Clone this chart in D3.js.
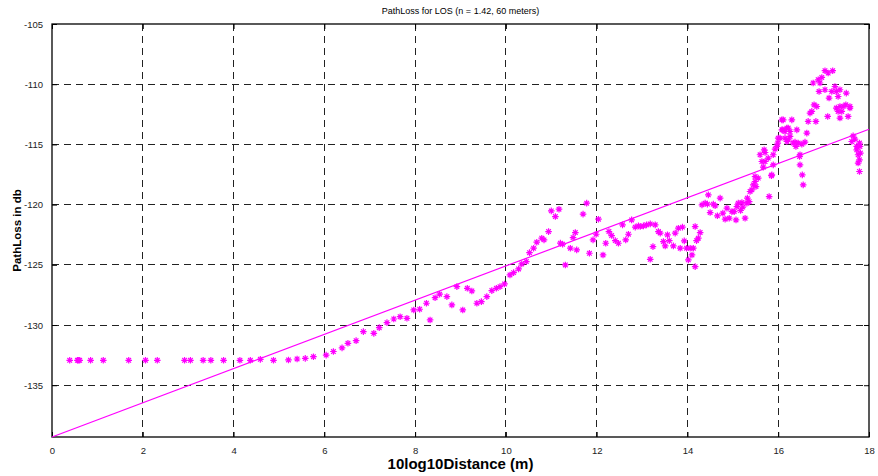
<!DOCTYPE html>
<html>
<head>
<meta charset="utf-8">
<script src="https://cdn.jsdelivr.net/npm/d3@7"></script>
<style>
  html, body { margin: 0; padding: 0; background: #fff; }
  svg text { font-family: "Liberation Sans", Arial, sans-serif; fill: #000; }
</style>
</head>
<body>
<svg id="chart" width="878" height="476"></svg>
<script>

////////// DATA //////////

const titleText = "PathLoss for LOS (n = 1.42, 60 meters)";
const xLabel = "10log10Distance (m)";
const yLabel = "PathLoss in db";

const xTicks = [0, 2, 4, 6, 8, 10, 12, 14, 16, 18];
const yTicks = [-135, -130, -125, -120, -115, -110, -105];

// measured path loss: 10log10(distance) vs loss in db
const distLog = [
  0.39, 0.56, 0.58, 0.61, 0.85, 1.13, 1.69, 2.06, 2.32, 2.92, 3.05, 3.33, 3.50, 3.78, 4.14, 4.37,
  4.59, 4.88, 5.21, 5.40, 5.58, 5.76, 6.04, 6.20, 6.39, 6.52, 6.70, 6.86, 7.09, 7.21, 7.38, 7.53,
  7.67, 7.82, 7.97, 8.10, 8.25, 8.33, 8.44, 8.54, 8.70, 8.81, 8.92, 9.05, 9.15, 9.25, 9.36, 9.46,
  9.58, 9.69, 9.79, 9.87, 9.97, 10.09, 10.17, 10.28, 10.35, 10.45, 10.52, 10.61, 10.68, 10.79, 10.84, 10.94,
  11.00, 11.09, 11.17, 11.20, 11.25, 11.31, 11.42, 11.48, 11.53, 11.56, 11.70, 11.78, 11.84, 11.92, 11.99, 12.04,
  12.14, 12.20, 12.27, 12.33, 12.41, 12.48, 12.57, 12.64, 12.70, 12.77, 12.85, 12.92, 12.96, 13.03, 13.10, 13.18,
  13.18, 13.24, 13.29, 13.36, 13.40, 13.47, 13.51, 13.56, 13.60, 13.69, 13.73, 13.80, 13.84, 13.89, 13.93, 13.98,
  14.02, 14.06, 14.10, 14.13, 14.17, 14.17, 14.20, 14.24, 14.28, 14.32, 14.39, 14.44, 14.46, 14.50, 14.57, 14.61,
  14.66, 14.72, 14.78, 14.83, 14.87, 14.92, 14.98, 15.03, 15.07, 15.09, 15.12, 15.17, 15.20, 15.22, 15.27, 15.31,
  15.32, 15.36, 15.38, 15.42, 15.45, 15.49, 15.51, 15.56, 15.49, 15.60, 15.64, 15.67, 15.69, 15.71, 15.71, 15.78,
  15.80, 15.85, 15.86, 15.89, 15.89, 15.93, 15.97, 15.99, 16.00, 16.04, 16.08, 16.08, 16.10, 16.11, 16.15, 16.15,
  16.19, 16.19, 16.22, 16.22, 16.26, 16.26, 16.30, 16.33, 16.37, 16.39, 16.41, 16.44, 16.47, 16.48, 16.48, 16.52,
  16.53, 16.55, 16.59, 16.63, 16.66, 16.70, 16.74, 16.77, 16.79, 16.83, 16.85, 16.88, 16.90, 16.92, 16.96, 17.03,
  17.03, 17.09, 17.10, 17.12, 17.18, 17.20, 17.25, 17.28, 17.28, 17.32, 17.32, 17.36, 17.36, 17.36, 17.40, 17.43,
  17.49, 17.50, 17.54, 17.58, 17.58, 17.62, 17.65, 17.69, 17.73, 17.73, 17.76, 17.76, 17.79, 17.79, 17.79, 17.80,
  17.81
];

const pathLoss = [
  -132.93, -132.93, -132.93, -132.93, -132.93, -132.93, -132.93, -132.93, -132.93, -132.93, -132.93, -132.93, -132.93, -132.93, -132.93, -132.93,
  -132.85, -132.93, -132.90, -132.82, -132.77, -132.63, -132.50, -132.20, -131.90, -131.52, -131.30, -130.55, -130.69, -130.22, -129.80, -129.50,
  -129.31, -129.44, -128.75, -128.69, -128.19, -129.58, -127.73, -127.44, -127.64, -128.33, -126.81, -128.75, -126.95, -127.17, -128.19, -128.06,
  -127.64, -127.14, -126.95, -126.81, -126.59, -125.84, -125.65, -125.34, -124.93, -124.73, -123.99, -123.62, -123.12, -122.79, -122.93, -122.24,
  -120.52, -120.99, -120.38, -123.20, -123.29, -125.01, -123.62, -122.74, -122.32, -123.76, -120.79, -119.88, -124.04, -122.93, -122.46, -121.21,
  -124.18, -123.21, -122.24, -122.57, -122.99, -123.21, -121.68, -122.93, -122.46, -121.27, -121.87, -121.77, -121.82, -121.77, -121.68, -121.60,
  -124.54, -123.49, -121.68, -122.24, -122.37, -123.07, -123.43, -122.51, -122.99, -123.43, -122.37, -121.96, -123.62, -121.87, -123.01, -123.62,
  -124.59, -123.62, -124.18, -123.62, -125.15, -121.82, -122.99, -122.79, -122.32, -120.02, -119.88, -119.96, -119.19, -120.66, -119.96, -120.10,
  -120.93, -119.46, -120.71, -121.21, -120.30, -121.13, -120.58, -120.58, -121.27, -120.16, -119.88, -120.49, -119.83, -120.21, -121.13, -119.88,
  -119.46, -119.75, -118.91, -118.77, -118.36, -118.08, -118.50, -117.80, -117.67, -115.86, -116.42, -116.89, -115.45, -116.42, -115.67, -116.14,
  -119.33, -117.60, -117.53, -115.86, -116.70, -115.39, -115.17, -114.89, -114.48, -114.48, -113.79, -112.96, -113.79, -112.96, -113.93, -114.48,
  -114.76, -113.65, -113.64, -114.62, -113.93, -114.34, -112.96, -114.89, -114.81, -115.17, -113.79, -114.89, -116.00, -115.86, -116.70, -114.98,
  -117.53, -118.36, -114.81, -114.06, -113.09, -112.40, -112.26, -109.90, -111.71, -113.09, -111.85, -109.63, -110.60, -109.90, -109.44, -108.88,
  -110.46, -112.68, -109.07, -111.15, -110.60, -108.88, -110.19, -110.60, -111.98, -111.02, -112.26, -110.46, -111.85, -112.81, -112.26, -111.85,
  -111.71, -110.74, -112.68, -111.85, -111.98, -114.76, -114.29, -114.56, -115.17, -115.45, -115.86, -116.55, -114.89, -116.28, -117.25, -115.17,
  -115.72
];

// least squares fit (n = 1.42), end points
const fitX = [0, 18];
const fitY = [-139.3, -113.74];


////////// SETUP //////////

const margin = { top: 24, right: 9, bottom: 39, left: 52 };
const width = 878 - margin.left - margin.right;
const height = 476 - margin.top - margin.bottom;

const svg = d3.select("#chart");

const x = d3.scaleLinear()
    .domain([0, 18])
    .range([0, width]);

const y = d3.scaleLinear()
    .domain([-139.3, -105])
    .range([height, 0]);

const g = svg.append("g")
    .attr("transform", "translate(" + margin.left + "," + margin.top + ")");


////////// GRID //////////

g.append("g")
    .attr("class", "grid-x")
  .selectAll("line")
    .data(xTicks.filter(d => d > 0 && d < 18))
    .enter()
    .append("line")
    .attr("x1", d => x(d))
    .attr("x2", d => x(d))
    .attr("y1", 0)
    .attr("y2", height)
    .attr("stroke", "#222")
    .attr("stroke-width", 1)
    .attr("stroke-dasharray", "7,5")
    .attr("shape-rendering", "crispEdges");

g.append("g")
    .attr("class", "grid-y")
  .selectAll("line")
    .data(yTicks.filter(d => d < -105))
    .enter()
    .append("line")
    .attr("x1", 0)
    .attr("x2", width)
    .attr("y1", d => y(d))
    .attr("y2", d => y(d))
    .attr("stroke", "#222")
    .attr("stroke-width", 1)
    .attr("stroke-dasharray", "7,5")
    .attr("shape-rendering", "crispEdges");


////////// AXES //////////

const xAxis = d3.axisBottom(x)
    .tickValues(xTicks)
    .tickFormat(d3.format("d"))
    .tickSizeInner(-5)
    .tickSizeOuter(0)
    .tickPadding(10);

const yAxis = d3.axisLeft(y)
    .tickValues(yTicks)
    .tickFormat(d => d3.format("d")(d).replace("\u2212", "-"))
    .tickSizeInner(-5)
    .tickSizeOuter(0)
    .tickPadding(9);

const gx = g.append("g")
    .attr("transform", "translate(0," + height + ")")
    .call(xAxis);

const gy = g.append("g")
    .call(yAxis);

// inward ticks on top and right too
g.append("g")
    .call(d3.axisTop(x).tickValues(xTicks).tickSizeInner(-5).tickSizeOuter(0).tickFormat(""));
g.append("g")
    .attr("transform", "translate(" + width + ",0)")
    .call(d3.axisRight(y).tickValues(yTicks).tickSizeInner(-5).tickSizeOuter(0).tickFormat(""));

g.selectAll(".domain").remove();
g.selectAll(".tick line").attr("stroke", "#000");
g.selectAll(".tick text")
    .style("font-size", "9.5px")
    .style("fill", "#222");

// plot box
g.append("rect")
    .attr("x", 0)
    .attr("y", 0)
    .attr("width", width)
    .attr("height", height)
    .attr("fill", "none")
    .attr("stroke", "#000")
    .attr("stroke-width", 1.3);


////////// FIT LINE //////////

g.append("line")
    .attr("x1", x(fitX[0]))
    .attr("y1", y(fitY[0]))
    .attr("x2", x(fitX[1]))
    .attr("y2", y(fitY[1]))
    .attr("stroke", "#ff00ff")
    .attr("stroke-width", 1.2);


////////// MEASUREMENTS //////////

const star = "M-3.3,0H3.3M0,-3.3V3.3M-2.3,-2.3L2.3,2.3M-2.3,2.3L2.3,-2.3";

g.append("g")
    .attr("class", "points")
  .selectAll("path")
    .data(d3.range(distLog.length))
    .enter()
    .append("path")
    .attr("transform", i => "translate(" + x(distLog[i]) + "," + y(pathLoss[i]) + ")")
    .attr("d", star)
    .attr("fill", "none")
    .attr("stroke", "#ff00ff")
    .attr("stroke-width", 1.2);


////////// LABELS //////////

svg.append("text")
    .attr("x", margin.left + width / 2)
    .attr("y", 14)
    .attr("text-anchor", "middle")
    .style("font-size", "9px")
    .text(titleText);

svg.append("text")
    .attr("x", margin.left + width / 2)
    .attr("y", 469)
    .attr("text-anchor", "middle")
    .style("font-size", "15px")
    .style("font-weight", "bold")
    .text(xLabel);

svg.append("text")
    .attr("transform", "translate(21," + (margin.top + height / 2) + ") rotate(-90)")
    .attr("text-anchor", "middle")
    .style("font-size", "11.5px")
    .style("font-weight", "bold")
    .text(yLabel);

</script>
</body>
</html>
